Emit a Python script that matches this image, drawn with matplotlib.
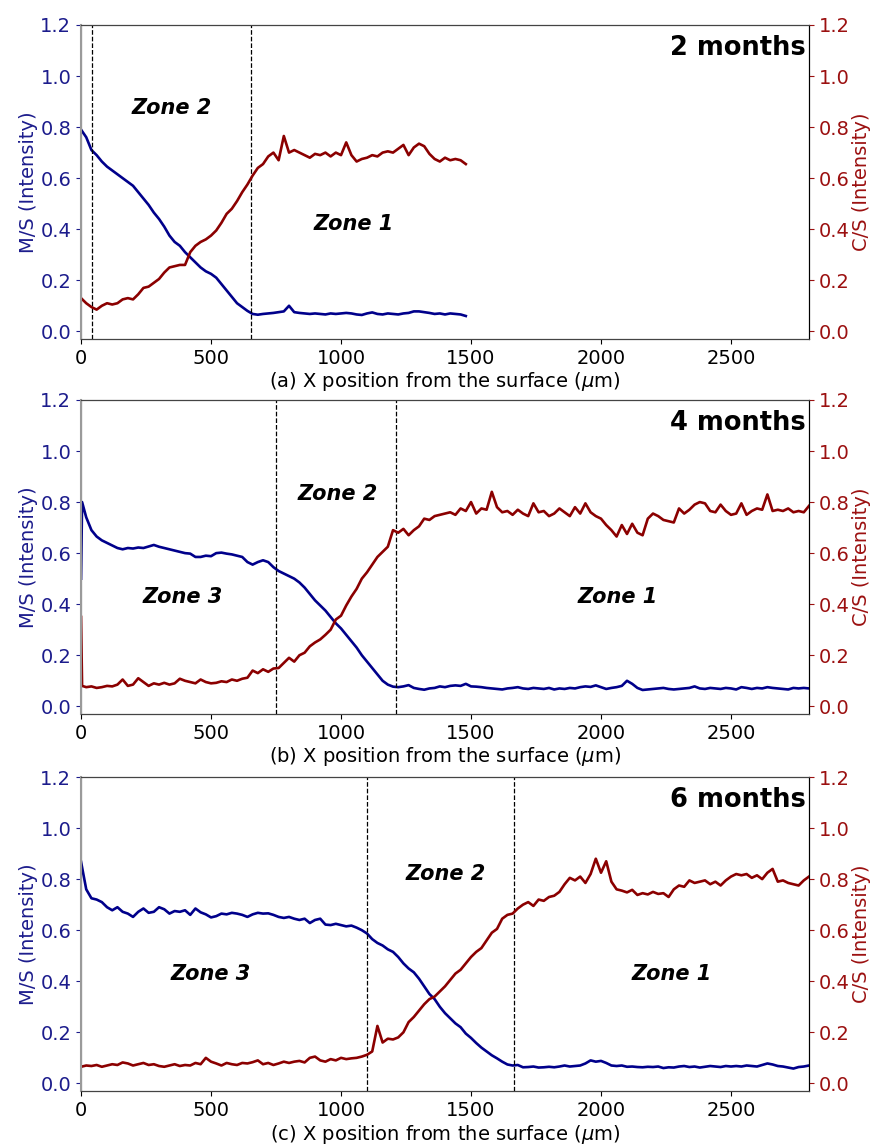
import numpy as np
import matplotlib
matplotlib.use("Agg")
import matplotlib.pyplot as plt

# ---------------- data ----------------
# Panel (a): 2 months
x_a = np.arange(0, 1481, 20)
ms_a = [0.79, 0.76, 0.71, 0.69, 0.665, 0.645, 0.63, 0.615, 0.60, 0.585,
        0.57, 0.545, 0.52, 0.495, 0.465, 0.44, 0.41, 0.375, 0.35, 0.335,
        0.31, 0.29, 0.27, 0.25, 0.235, 0.225, 0.21, 0.185, 0.16, 0.135,
        0.11, 0.095, 0.08, 0.068, 0.065, 0.068, 0.07, 0.072, 0.075, 0.078,
        0.10, 0.075, 0.072, 0.07, 0.068, 0.07, 0.068, 0.066, 0.07, 0.068,
        0.07, 0.072, 0.07, 0.066, 0.064, 0.07, 0.074, 0.068, 0.066, 0.07,
        0.068, 0.066, 0.07, 0.072, 0.078, 0.078, 0.075, 0.072, 0.068, 0.07,
        0.066, 0.07, 0.068, 0.066, 0.06]
cs_a = [0.13, 0.11, 0.095, 0.085, 0.10, 0.11, 0.105, 0.11, 0.125, 0.13,
        0.125, 0.145, 0.17, 0.175, 0.19, 0.205, 0.23, 0.25, 0.255, 0.26,
        0.26, 0.31, 0.335, 0.35, 0.36, 0.375, 0.395, 0.425, 0.46, 0.48,
        0.51, 0.545, 0.575, 0.61, 0.64, 0.655, 0.685, 0.70, 0.67, 0.765,
        0.70, 0.71, 0.70, 0.69, 0.68, 0.695, 0.69, 0.70, 0.685, 0.70,
        0.69, 0.74, 0.69, 0.665, 0.675, 0.68, 0.69, 0.685, 0.70, 0.705,
        0.70, 0.715, 0.73, 0.69, 0.72, 0.735, 0.725, 0.695, 0.675, 0.665,
        0.68, 0.67, 0.675, 0.67, 0.655]

# Panel (b): 4 months
x_b = np.r_[0, 4, np.arange(20, 2801, 20)]
ms_b = [0.50, 0.80,
        0.74, 0.69, 0.665, 0.65, 0.64, 0.63, 0.62, 0.615, 0.62, 0.618,
        0.622, 0.62, 0.626, 0.632, 0.625, 0.62, 0.615, 0.61, 0.605, 0.60,
        0.598, 0.585, 0.585, 0.59, 0.588, 0.60, 0.602, 0.598, 0.595, 0.59,
        0.585, 0.565, 0.555, 0.565, 0.572, 0.565, 0.545, 0.53, 0.52, 0.51,
        0.50, 0.485, 0.465, 0.44, 0.415, 0.395, 0.375, 0.35, 0.325, 0.305,
        0.28, 0.255, 0.23, 0.20, 0.175, 0.15, 0.125, 0.10, 0.085, 0.077,
        0.075, 0.078, 0.083, 0.072, 0.068, 0.065, 0.07, 0.072, 0.078, 0.075,
        0.08, 0.082, 0.08, 0.088, 0.078, 0.077, 0.075, 0.072, 0.07, 0.068,
        0.066, 0.07, 0.072, 0.075, 0.07, 0.068, 0.072, 0.07, 0.068, 0.072,
        0.066, 0.07, 0.068, 0.072, 0.07, 0.075, 0.078, 0.076, 0.082, 0.075,
        0.068, 0.072, 0.075, 0.08, 0.10, 0.088, 0.072, 0.064, 0.066, 0.068,
        0.07, 0.072, 0.068, 0.066, 0.068, 0.07, 0.072, 0.078, 0.07, 0.068,
        0.072, 0.07, 0.068, 0.072, 0.07, 0.066, 0.075, 0.072, 0.068, 0.072,
        0.07, 0.075, 0.072, 0.07, 0.068, 0.066, 0.072, 0.07, 0.072, 0.07]
cs_b = [0.35, 0.08,
        0.075, 0.078, 0.072, 0.075, 0.08, 0.078, 0.085, 0.105, 0.08, 0.085,
        0.11, 0.095, 0.08, 0.09, 0.085, 0.092, 0.085, 0.09, 0.108, 0.10,
        0.095, 0.09, 0.105, 0.095, 0.09, 0.092, 0.098, 0.095, 0.105, 0.10,
        0.108, 0.112, 0.14, 0.13, 0.145, 0.135, 0.148, 0.15, 0.17, 0.19,
        0.175, 0.20, 0.21, 0.235, 0.25, 0.262, 0.28, 0.30, 0.34, 0.355,
        0.395, 0.43, 0.46, 0.50, 0.525, 0.555, 0.585, 0.605, 0.625, 0.69,
        0.68, 0.695, 0.67, 0.69, 0.705, 0.735, 0.73, 0.745, 0.75, 0.755,
        0.76, 0.75, 0.775, 0.765, 0.80, 0.755, 0.775, 0.77, 0.84, 0.78,
        0.76, 0.765, 0.75, 0.77, 0.755, 0.745, 0.795, 0.76, 0.765, 0.745,
        0.755, 0.775, 0.76, 0.745, 0.78, 0.755, 0.795, 0.76, 0.745, 0.735,
        0.71, 0.69, 0.665, 0.71, 0.675, 0.715, 0.68, 0.67, 0.735, 0.755,
        0.745, 0.73, 0.725, 0.72, 0.775, 0.755, 0.77, 0.79, 0.80, 0.795,
        0.765, 0.76, 0.79, 0.765, 0.75, 0.755, 0.795, 0.75, 0.765, 0.775,
        0.77, 0.83, 0.765, 0.77, 0.765, 0.775, 0.76, 0.765, 0.76, 0.785]

# Panel (c): 6 months
x_c = np.arange(0, 2801, 20)
ms_c = [0.868, 0.76, 0.725, 0.72, 0.71, 0.69, 0.678, 0.69, 0.672, 0.665,
        0.652, 0.672, 0.685, 0.668, 0.672, 0.69, 0.682, 0.665, 0.675, 0.672,
        0.678, 0.66, 0.685, 0.67, 0.662, 0.65, 0.655, 0.665, 0.662, 0.668,
        0.665, 0.66, 0.652, 0.662, 0.668, 0.665, 0.666, 0.66, 0.652, 0.648,
        0.652, 0.645, 0.64, 0.645, 0.628, 0.64, 0.645, 0.622, 0.62, 0.625,
        0.62, 0.615, 0.618, 0.61, 0.60, 0.587, 0.565, 0.55, 0.54, 0.525,
        0.515, 0.495, 0.47, 0.45, 0.435, 0.41, 0.38, 0.35, 0.33, 0.30,
        0.275, 0.255, 0.235, 0.22, 0.195, 0.178, 0.158, 0.14, 0.125, 0.11,
        0.098, 0.085, 0.074, 0.07, 0.072, 0.063, 0.064, 0.066, 0.062, 0.063,
        0.065, 0.063, 0.066, 0.07, 0.066, 0.068, 0.07, 0.078, 0.09, 0.085,
        0.088, 0.08, 0.07, 0.068, 0.07, 0.065, 0.066, 0.064, 0.063, 0.065,
        0.064, 0.066, 0.06, 0.063, 0.062, 0.066, 0.068, 0.064, 0.066, 0.062,
        0.065, 0.068, 0.066, 0.064, 0.068, 0.066, 0.068, 0.066, 0.07, 0.068,
        0.066, 0.072, 0.078, 0.074, 0.068, 0.066, 0.062, 0.058, 0.064, 0.066,
        0.07]
cs_c = [0.065, 0.07, 0.068, 0.072, 0.065, 0.07, 0.075, 0.072, 0.082, 0.078,
        0.07, 0.075, 0.08, 0.072, 0.075, 0.068, 0.065, 0.07, 0.075, 0.068,
        0.072, 0.07, 0.08, 0.075, 0.10, 0.085, 0.078, 0.07, 0.08, 0.075,
        0.072, 0.08, 0.078, 0.083, 0.09, 0.075, 0.08, 0.072, 0.078, 0.085,
        0.08, 0.085, 0.088, 0.082, 0.10, 0.105, 0.09, 0.085, 0.095, 0.09,
        0.10, 0.095, 0.098, 0.10, 0.105, 0.112, 0.125, 0.225, 0.16, 0.175,
        0.172, 0.18, 0.20, 0.24, 0.26, 0.285, 0.31, 0.33, 0.34, 0.36,
        0.38, 0.405, 0.43, 0.445, 0.47, 0.495, 0.515, 0.53, 0.56, 0.59,
        0.605, 0.645, 0.66, 0.665, 0.685, 0.70, 0.71, 0.695, 0.72, 0.715,
        0.73, 0.735, 0.75, 0.78, 0.805, 0.795, 0.81, 0.785, 0.82, 0.88,
        0.825, 0.87, 0.79, 0.76, 0.755, 0.748, 0.758, 0.738, 0.745, 0.74,
        0.75, 0.742, 0.745, 0.73, 0.76, 0.775, 0.77, 0.795, 0.785, 0.79,
        0.795, 0.78, 0.79, 0.775, 0.795, 0.81, 0.82, 0.815, 0.82, 0.805,
        0.815, 0.80, 0.825, 0.84, 0.79, 0.795, 0.785, 0.78, 0.775, 0.795,
        0.81]

months = ["2 months", "4 months", "6 months"]
xlabels = ["(a) X position from the surface ($\\mu$m)",
           "(b) X position from the surface ($\\mu$m)",
           "(c) X position from the surface ($\\mu$m)"]
boundaries = [[43, 653], [751, 1212], [1101, 1667]]
zone_labels = [
    [("Zone 2", 350, 0.875), ("Zone 1", 1050, 0.42)],
    [("Zone 3", 390, 0.43), ("Zone 2", 988, 0.83), ("Zone 1", 2065, 0.43)],
    [("Zone 3", 500, 0.43), ("Zone 2", 1404, 0.82), ("Zone 1", 2270, 0.43)],
]

panels = [(x_a, ms_a, cs_a), (x_b, ms_b, cs_b), (x_c, ms_c, cs_c)]

BLUE = "#00008b"
RED = "#8b0000"
BLUE_TXT = "#1c1c8c"
RED_TXT = "#9b1010"

fig = plt.figure(figsize=(8.78, 11.44), dpi=100)
bottoms = [0.7037, 0.3759, 0.0463]
left, width, height = 0.0923, 0.8291, 0.2745

for i, (x, ms, cs) in enumerate(panels):
    ax = fig.add_axes([left, bottoms[i], width, height])
    ax2 = ax.twinx()
    ax.plot(x, ms, color=BLUE, lw=1.9)
    ax2.plot(x, cs, color=RED, lw=1.9)
    for b in boundaries[i]:
        ax.axvline(b, color="black", ls="--", lw=0.9)
    ax.set_xlim(0, 2800)
    ax.set_ylim(-0.03, 1.2)
    ax2.set_ylim(-0.03, 1.2)
    ax.set_yticks(np.arange(0, 1.21, 0.2))
    ax2.set_yticks(np.arange(0, 1.21, 0.2))
    ax.set_xticks([0, 500, 1000, 1500, 2000, 2500])
    ax.tick_params(axis="y", colors=BLUE_TXT, labelsize=14)
    ax.tick_params(axis="x", labelsize=14)
    ax2.tick_params(axis="y", colors=RED_TXT, labelsize=14)
    ax.set_ylabel("M/S (Intensity)", color=BLUE_TXT, fontsize=14, labelpad=2)
    ax2.set_ylabel("C/S (Intensity)", color=RED_TXT, fontsize=14, labelpad=2)
    ax.set_xlabel(xlabels[i], fontsize=14, labelpad=2)
    ax2.spines["left"].set_color("#9a9a9a")
    ax2.spines["left"].set_linewidth(1.5)
    ax2.spines["top"].set_color("#444444")
    ax2.spines["bottom"].set_color("#444444")
    for name, zx, zy in zone_labels[i]:
        ax.text(zx, zy, name, fontsize=15, fontweight="bold", fontstyle="italic",
                ha="center", va="center")
    ax.text(0.996, 0.968, months[i], transform=ax.transAxes, fontsize=18.5,
            fontweight="bold", ha="right", va="top")

fig.savefig("out.png", dpi=100)
